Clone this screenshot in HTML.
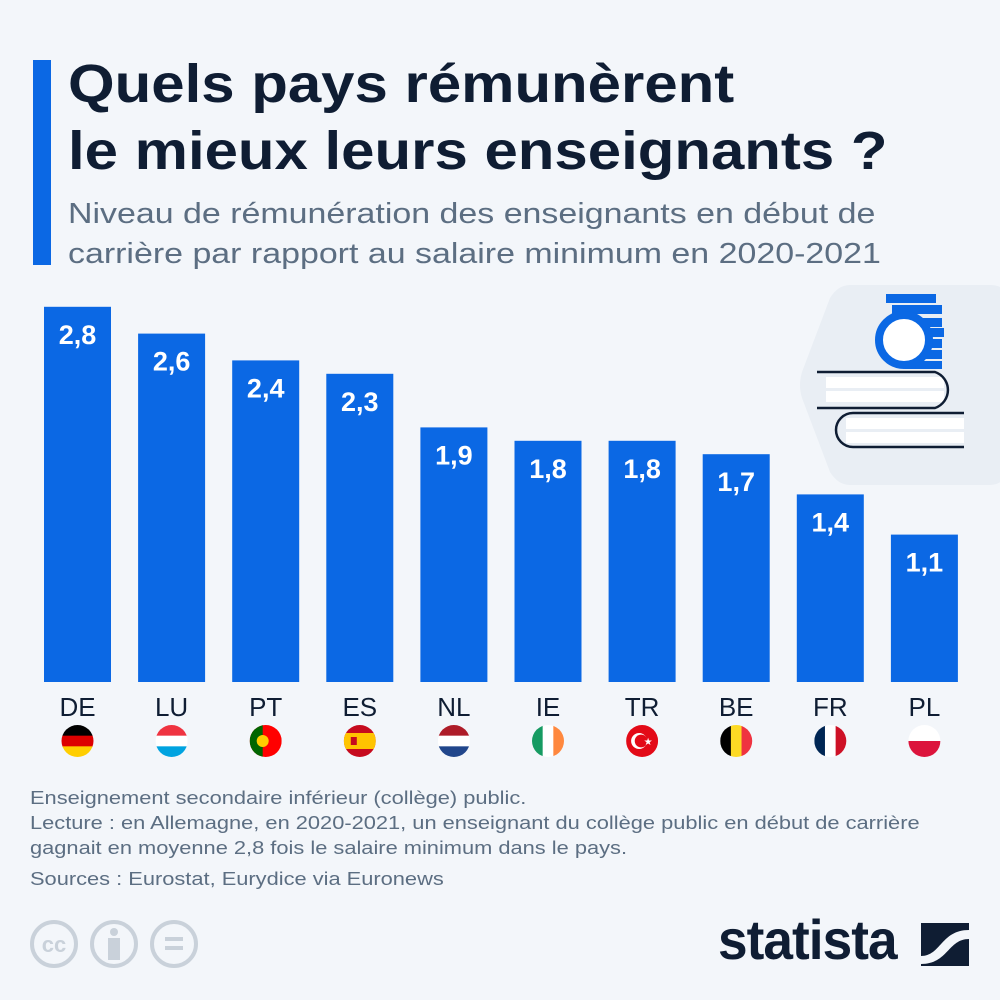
<!DOCTYPE html>
<html><head><meta charset="utf-8"><style>
body{margin:0;background:#f3f6fa;}
#root{position:relative;width:1000px;height:1000px;background:#f3f6fa;overflow:hidden;font-family:"Liberation Sans",sans-serif;}
.t{position:absolute;left:68px;color:#0f1d33;font-weight:bold;font-size:54px;line-height:67px;transform:scaleX(1.11);transform-origin:left top;white-space:nowrap;}
.s{position:absolute;left:68px;color:#5c6e82;font-size:29px;line-height:40px;transform:scaleX(1.17);transform-origin:left top;white-space:nowrap;}
.n{position:absolute;left:30px;color:#5c6e82;font-size:18.5px;line-height:25px;transform:scaleX(1.18);transform-origin:left top;white-space:nowrap;}
</style></head><body>
<div id="root">
<div style="position:absolute;left:33px;top:60px;width:18px;height:205px;background:#0b68e4"></div>
<div class="t" style="top:51px">Quels pays rémunèrent<br>le mieux leurs enseignants ?</div>
<div class="s" style="top:194px">Niveau de rémunération des enseignants en début de<br>carrière par rapport au salaire minimum en 2020-2021</div>
<svg id="chart" width="1000" height="1000" style="position:absolute;left:0;top:0">
<g>
<path d="M850 285 L990 285 Q1005 285 1012 300 L1030 385 L1010 470 Q1003 485 990 485 L850 485 Q838 485 830 472 L802 398 Q798 385 802 372 L830 298 Q838 285 850 285 Z" fill="#e9eef4"/>
<rect x="886" y="294" width="50" height="9" fill="#0b68e4"/>
<rect x="892" y="305" width="50" height="9" fill="#0b68e4"/>
<rect x="905" y="318" width="37" height="9" fill="#0b68e4"/>
<rect x="910" y="328" width="34" height="9" fill="#0b68e4"/>
<rect x="910" y="339" width="32" height="9" fill="#0b68e4"/>
<rect x="905" y="350" width="37" height="9" fill="#0b68e4"/>
<rect x="905" y="361" width="37" height="8" fill="#0b68e4"/>
<circle cx="904" cy="340" r="25" fill="#fff" stroke="#0b68e4" stroke-width="8"/>
<rect x="826" y="377" width="118" height="11" fill="#fff"/>
<rect x="826" y="391" width="118" height="11" fill="#fff"/>
<path d="M817 372 H935 A19 19 0 0 1 935 408 H817" fill="none" stroke="#0f1d33" stroke-width="2.5"/>
<rect x="846" y="418" width="118" height="11" fill="#fff"/>
<rect x="846" y="432" width="118" height="11" fill="#fff"/>
<path d="M964 413 H853 A17 17 0 0 0 853 447 H964" fill="none" stroke="#0f1d33" stroke-width="2.5"/>
</g>
</svg>
<div class="n" style="top:785px">Enseignement secondaire inférieur (collège) public.<br>Lecture : en Allemagne, en 2020-2021, un enseignant du collège public en début de carrière<br>gagnait en moyenne 2,8 fois le salaire minimum dans le pays.</div>
<div class="n" style="top:866px">Sources : Eurostat, Eurydice via Euronews</div>
<svg width="180" height="60" style="position:absolute;left:28px;top:918px">
<g fill="none" stroke="#c9d1da" stroke-width="4"><circle cx="26" cy="26" r="22"/><circle cx="86" cy="26" r="22"/><circle cx="146" cy="26" r="22"/></g>
<text x="26" y="34" text-anchor="middle" font-family="Liberation Sans" font-weight="bold" font-size="22" fill="#c9d1da">cc</text>
<circle cx="86" cy="14" r="4" fill="#c9d1da"/><rect x="80" y="20" width="12" height="22" fill="#c9d1da"/>
<rect x="137" y="19" width="18" height="4" fill="#c9d1da"/><rect x="137" y="28" width="18" height="4" fill="#c9d1da"/>
</svg>
<div style="position:absolute;left:718px;top:908px;width:260px;height:70px;">
<span style="position:absolute;left:0;top:0;font-family:'Liberation Sans',sans-serif;font-weight:bold;font-size:56px;color:#0f1d33;letter-spacing:-1px;transform:scaleX(0.95);transform-origin:left;display:inline-block;line-height:64px;">statista</span>
<svg width="48" height="43" style="position:absolute;left:203px;top:15px"><rect width="48" height="43" fill="#0f1d33"/><path d="M0 33 C20 33 20 7 48 7 L48 16 C27 16 27 41 0 41 Z" fill="#f3f6fa"/></svg>
</div>
</div>
<script>
const categories=["DE","LU","PT","ES","NL","IE","TR","BE","FR","PL"];
const values=[2.8,2.6,2.4,2.3,1.9,1.8,1.8,1.7,1.4,1.1];
const valueLabels=["2,8","2,6","2,4","2,3","1,9","1,8","1,8","1,7","1,4","1,1"];
const flagStripes=[
 ["h","#000","#dd0000","#ffce00"],["h","#ef3340","#fff","#00a3e0"],["p"],["s"],["h","#ae1c28","#fff","#21468b"],
 ["v","#169b62","#fff","#ff883e"],["t"],["v","#000","#fdda24","#ef3340"],["v","#002654","#fff","#ce1126"],["h2","#fff","#dc143c"]];
const NS="http://www.w3.org/2000/svg";
const svg=document.getElementById("chart");
const x0=44,step=94.1,bw=67,base=682,scale=134;
const xPos=i=>x0+i*step;
const yPos=v=>base-v*scale;
function mk(tag,attrs,parent){const e=document.createElementNS(NS,tag);for(const k in attrs)e.setAttribute(k,attrs[k]);(parent||svg).appendChild(e);return e;}
categories.forEach((c,i)=>{
 const x=xPos(i),y=yPos(values[i]);
 const b=mk("rect",{x:x,y:y,width:bw,height:base-y,fill:"#0b68e4"});
 
 
 const vl=mk("text",{x:x+bw/2,y:y+37,"text-anchor":"middle",fill:"#fff","font-size":"27","font-weight":"bold","font-family":"Liberation Sans"});
 vl.textContent=valueLabels[i];
 
 
 const cl=mk("text",{x:x+bw/2,y:716,"text-anchor":"middle",fill:"#0f1d33","font-size":"26","font-family":"Liberation Sans"});
 cl.textContent=c;
 
 
 const cx=x+bw/2,cy=741,r=16;
 const g=mk("g",{});
 
 
 const cp=mk("clipPath",{id:"cp"+i},g);mk("circle",{cx:cx,cy:cy,r:r},cp);
 const gg=mk("g",{"clip-path":"url(#cp"+i+")"},g);
 const f=flagStripes[i];
 if(f[0]=="h"){for(let k=0;k<3;k++)mk("rect",{x:cx-r,y:cy-r+k*2*r/3,width:2*r,height:2*r/3+0.5,fill:f[k+1]},gg);}
 else if(f[0]=="v"){for(let k=0;k<3;k++)mk("rect",{x:cx-r+k*2*r/3,y:cy-r,width:2*r/3+0.5,height:2*r,fill:f[k+1]},gg);}
 else if(f[0]=="h2"){mk("rect",{x:cx-r,y:cy-r,width:2*r,height:r,fill:"#fff"},gg);mk("rect",{x:cx-r,y:cy,width:2*r,height:r,fill:"#dc143c"},gg);}
 else if(f[0]=="p"){mk("rect",{x:cx-r,y:cy-r,width:2*r,height:2*r,fill:"#ff0000"},gg);mk("rect",{x:cx-r,y:cy-r,width:13,height:2*r,fill:"#006600"},gg);mk("circle",{cx:cx-3,cy:cy,r:6,fill:"#ffcc00"},gg);}
 else if(f[0]=="s"){mk("rect",{x:cx-r,y:cy-r,width:2*r,height:2*r,fill:"#c60b1e"},gg);mk("rect",{x:cx-r,y:cy-r/2,width:2*r,height:r,fill:"#ffc400"},gg);mk("rect",{x:cx-9,y:cy-4,width:6,height:8,fill:"#c60b1e"},gg);}
 else if(f[0]=="t"){mk("rect",{x:cx-r,y:cy-r,width:2*r,height:2*r,fill:"#e30a17"},gg);mk("circle",{cx:cx-3,cy:cy,r:8,fill:"#fff"},gg);mk("circle",{cx:cx-1,cy:cy,r:6.4,fill:"#e30a17"},gg);mk("text",{x:cx+6,y:cy+4,"text-anchor":"middle",fill:"#fff","font-size":"10"},gg).textContent="★";}
});
</script>
</body></html>
